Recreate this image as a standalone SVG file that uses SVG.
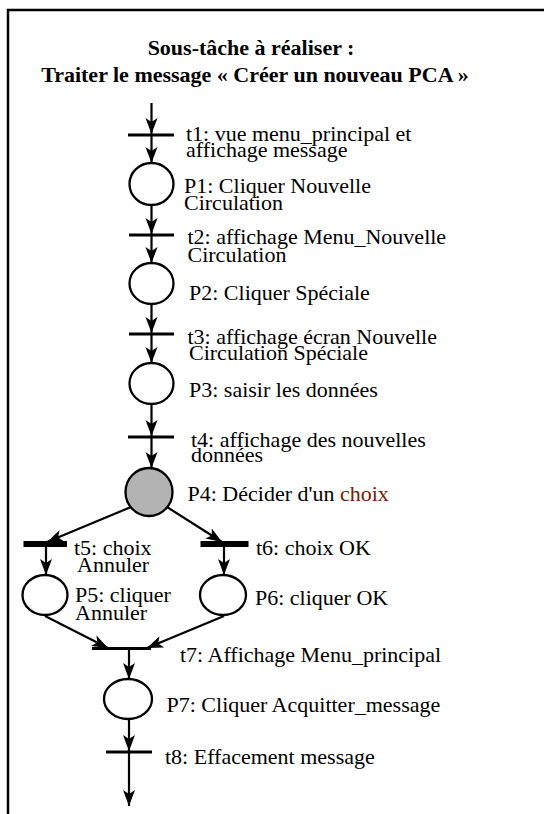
<svg xmlns="http://www.w3.org/2000/svg" width="544" height="814" viewBox="0 0 544 814">
<style>
.t{font-family:"Liberation Serif","Times New Roman",serif;font-size:22px;fill:#000}
.title{font-family:"Liberation Serif","Times New Roman",serif;font-size:22px;font-weight:bold;fill:#000}
.arc{stroke:#000;stroke-width:2.2;fill:none;marker-end:url(#ah)}
.bar{stroke:#000;stroke-width:3}
.bar2{stroke:#000;stroke-width:6}
.pl{fill:#fff;stroke:#000;stroke-width:2.3}
</style>
<defs>
<marker id="ah" markerUnits="userSpaceOnUse" markerWidth="18" markerHeight="14" refX="16" refY="6" orient="auto">
<path d="M0,0 L16,6 L0,12 L4,6 z" fill="#000"/>
</marker>
</defs>
<rect width="544" height="814" fill="#fff"/>
<path d="M8,814 V10 H544" fill="none" stroke="#000" stroke-width="2.5"/>
<g id="title">
<text class="title" x="251" y="55" text-anchor="middle">Sous-tâche à réaliser :</text>
<text class="title" x="255" y="81.5" text-anchor="middle">Traiter le message « Créer un nouveau PCA »</text>
</g>
<g id="connectors">
<line class="arc" x1="151.5" y1="103" x2="151.5" y2="134"/>
<line class="arc" x1="151.5" y1="136" x2="151.5" y2="163"/>
<line class="arc" x1="151.5" y1="205" x2="151.5" y2="234"/>
<line class="arc" x1="151.5" y1="236" x2="151.5" y2="263"/>
<line class="arc" x1="151.5" y1="304" x2="151.5" y2="333"/>
<line class="arc" x1="151.5" y1="335" x2="151.5" y2="363"/>
<line class="arc" x1="151.5" y1="404" x2="151.5" y2="436"/>
<line class="arc" x1="151.5" y1="438" x2="151.5" y2="468"/>
<line class="arc" x1="131" y1="507" x2="47" y2="542"/>
<line class="arc" x1="167" y1="507" x2="222" y2="542"/>
<line class="arc" x1="46" y1="545" x2="46" y2="575"/>
<line class="arc" x1="224" y1="545" x2="224" y2="575"/>
<line class="arc" x1="45" y1="616" x2="108" y2="648"/>
<line class="arc" x1="224" y1="616" x2="147" y2="648"/>
<line class="arc" x1="129" y1="649" x2="129" y2="679"/>
<line class="arc" x1="129" y1="719" x2="129" y2="751"/>
<line class="arc" x1="129" y1="752" x2="129" y2="806"/>
</g>
<g id="t1"><line class="bar" x1="128" y1="135" x2="174" y2="135"/>
<text class="t" x="186" y="140.5">t1: vue menu_principal et</text>
<text class="t" x="186" y="156.5">affichage message</text></g>
<g id="P1"><ellipse class="pl" cx="151.5" cy="184" rx="22" ry="21"/>
<text class="t" x="184" y="193">P1: Cliquer Nouvelle</text>
<text class="t" x="184" y="210">Circulation</text></g>
<g id="t2"><line class="bar" x1="129" y1="235" x2="174" y2="235"/>
<text class="t" x="187.5" y="244">t2: affichage Menu_Nouvelle</text>
<text class="t" x="187.5" y="261.5">Circulation</text></g>
<g id="P2"><ellipse class="pl" cx="151.5" cy="283.5" rx="22" ry="20.5"/>
<text class="t" x="189" y="299.5">P2: Cliquer Spéciale</text></g>
<g id="t3"><line class="bar" x1="129" y1="334" x2="174" y2="334"/>
<text class="t" x="187.5" y="343.5">t3: affichage écran Nouvelle</text>
<text class="t" x="189" y="360">Circulation Spéciale</text></g>
<g id="P3"><ellipse class="pl" cx="151.5" cy="383.5" rx="22" ry="20.5"/>
<text class="t" x="189" y="396.5">P3: saisir les données</text></g>
<g id="t4"><line class="bar" x1="128" y1="437" x2="174" y2="437"/>
<text class="t" x="191" y="446.5">t4: affichage des nouvelles</text>
<text class="t" x="191" y="461.5">données</text></g>
<g id="P4"><ellipse cx="149" cy="492" rx="23.5" ry="24" fill="#b3b3b3" stroke="#000" stroke-width="2.3"/>
<text class="t" x="187.5" y="500.5">P4: Décider d'un <tspan fill="#7a1a00">choix</tspan></text></g>
<g id="t5"><line class="bar2" x1="23.5" y1="544" x2="67" y2="544"/>
<text class="t" x="74" y="555">t5: choix</text>
<text class="t" x="77" y="572">Annuler</text></g>
<g id="t6"><line class="bar2" x1="200.5" y1="544" x2="248.5" y2="544"/>
<text class="t" x="256" y="554.5">t6: choix OK</text></g>
<g id="P5"><ellipse class="pl" cx="45" cy="595" rx="22.5" ry="20"/>
<text class="t" x="75" y="601.5">P5: cliquer</text>
<text class="t" x="75" y="620">Annuler</text></g>
<g id="P6"><ellipse class="pl" cx="223" cy="595" rx="23" ry="20"/>
<text class="t" x="255" y="605">P6: cliquer OK</text></g>
<g id="t7"><line class="bar" x1="92" y1="648.5" x2="151" y2="648.5"/>
<text class="t" x="180" y="661.5">t7: Affichage Menu_principal</text></g>
<g id="P7"><ellipse class="pl" cx="128" cy="699" rx="24" ry="20"/>
<text class="t" x="166.5" y="711.5">P7: Cliquer Acquitter_message</text></g>
<g id="t8"><line class="bar" x1="106" y1="752" x2="152" y2="752"/>
<text class="t" x="165" y="764">t8: Effacement message</text></g>
</svg>
